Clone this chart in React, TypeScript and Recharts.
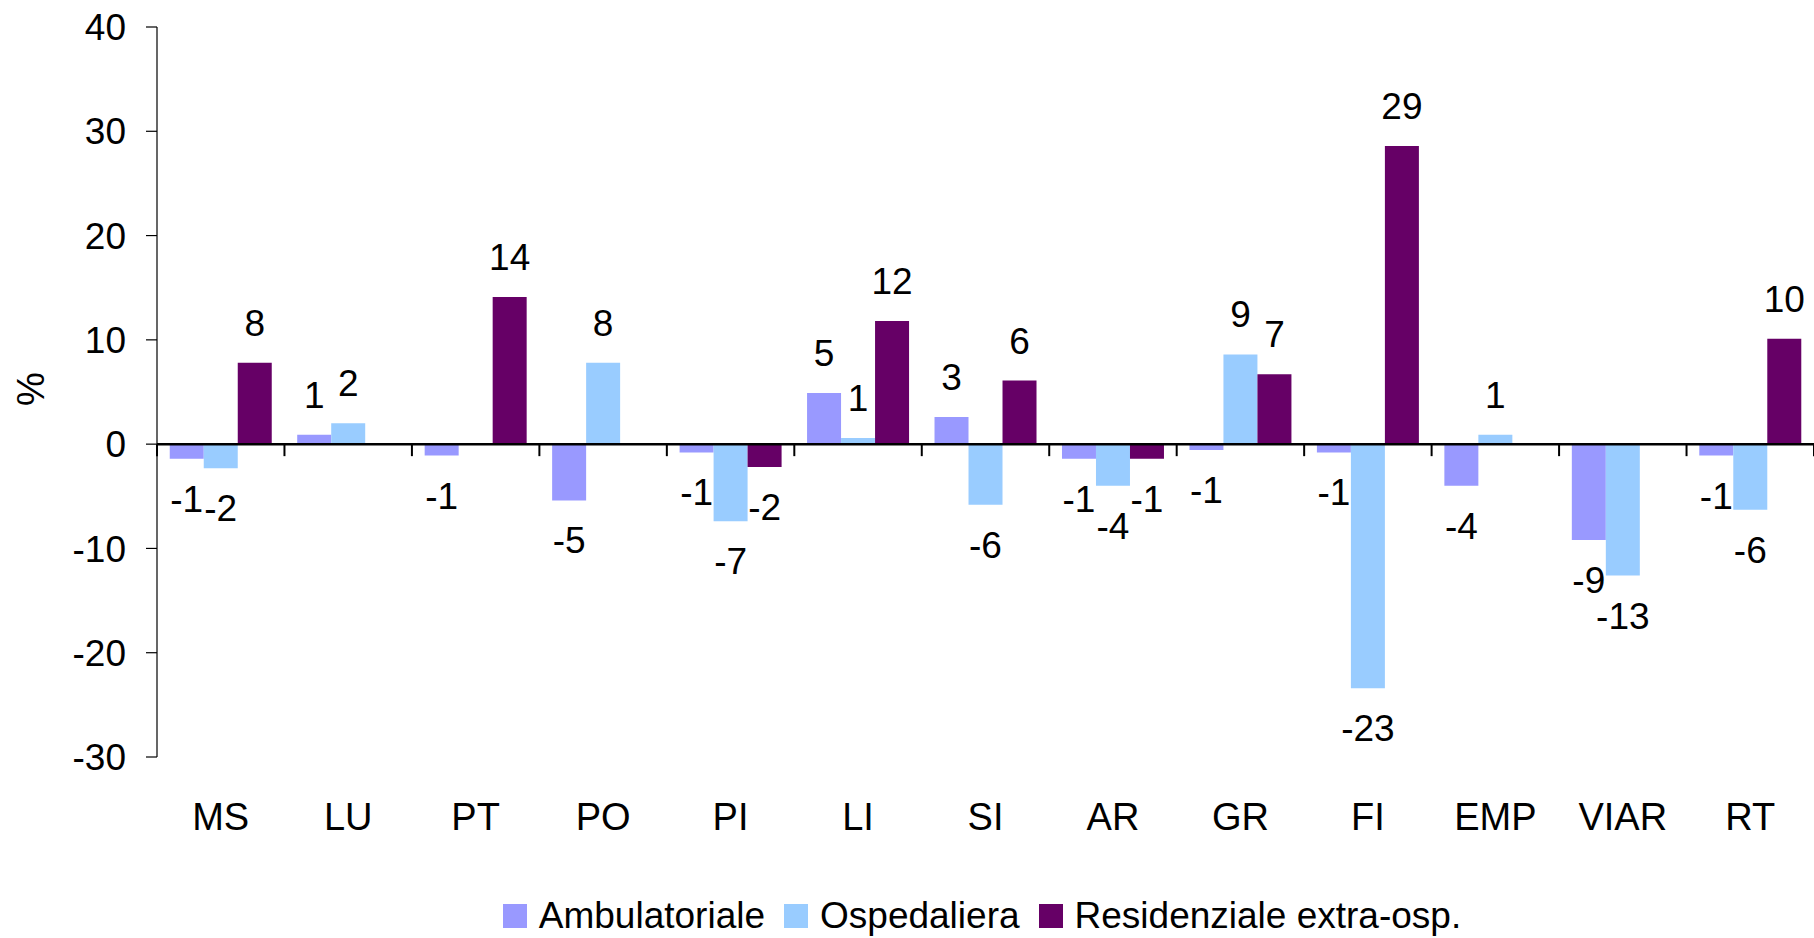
import React from 'react';
import { BarChart, Bar, XAxis, YAxis, ReferenceLine, LabelList, Legend } from 'recharts';

const categories = ['MS', 'LU', 'PT', 'PO', 'PI', 'LI', 'SI', 'AR', 'GR', 'FI', 'EMP', 'VIAR', 'RT'];
const ambulatoriale = [-1.4, 0.9, -1.1, -5.4, -0.8, 4.9, 2.6, -1.4, -0.55, -0.8, -4.0, -9.2, -1.1];
const ospedaliera = [-2.3, 2.0, null, 7.8, -7.4, 0.6, -5.8, -4.0, 8.6, -23.4, 0.9, -12.6, -6.3];
const residenziale = [7.8, null, 14.1, null, -2.2, 11.8, 6.1, -1.4, 6.7, 28.6, null, null, 10.1];
const seriesNames = ['Ambulatoriale', 'Ospedaliera', 'Residenziale extra-osp.'];
const seriesColors = ['#9999FF', '#99CCFF', '#660066'];
const yTicks = [-30, -20, -10, 0, 10, 20, 30, 40];
const yLabel = '%';

const data = categories.map((c, i) => ({
  cat: c,
  amb: ambulatoriale[i],
  osp: ospedaliera[i],
  res: residenziale[i],
}));

const FONT = "'Liberation Sans', Arial, sans-serif";

const renderLabel = (props: any) => {
  const { x, y, width, height, value } = props;
  if (value === null || value === undefined) return null;
  const top = Math.min(y, y + height);
  const bottom = Math.max(y, y + height);
  const cx = x + width / 2;
  const ty = value >= 0 ? top - 27 : bottom + 26 + 27;
  return (
    <text x={cx} y={ty} textAnchor="middle" fontSize={37} fontFamily={FONT} fill="#000">
      {Math.round(value)}
    </text>
  );
};

const zeroAxis = (props: any) => {
  const { x1, y1, x2, y2 } = props;
  const n = categories.length;
  const step = (x2 - x1) / n;
  return (
    <g>
      <line x1={x1} y1={y1} x2={x2} y2={y2} stroke="#000" strokeWidth={2.5} />
      {Array.from({ length: n + 1 }, (_, i) => (
        <line
          key={i}
          x1={x1 + i * step}
          x2={x1 + i * step}
          y1={y1}
          y2={y1 + 12}
          stroke="#000"
          strokeWidth={2}
        />
      ))}
    </g>
  );
};

const renderLegend = (props: any) => {
  const { payload } = props;
  return (
    <div
      style={{
        textAlign: 'center',
        whiteSpace: 'nowrap',
        fontFamily: FONT,
        fontSize: 37,
        lineHeight: '44px',
        color: '#000',
      }}
    >
      {(payload || []).map((e: any, i: number) => (
        <span key={i} style={{ marginLeft: i ? 19 : 0 }}>
          <span
            style={{
              display: 'inline-block',
              width: 24,
              height: 24,
              background: e.color,
              marginRight: 12,
            }}
          />
          <span>{e.value}</span>
        </span>
      ))}
    </div>
  );
};

const renderYLabel = (props: any) => {
  const vb = props.viewBox || { x: 0, y: 27, width: 157, height: 730 };
  const cx = vb.x + 44;
  const cy = vb.y + vb.height / 2 - 3;
  return (
    <text
      x={cx}
      y={cy}
      textAnchor="middle"
      fontSize={38}
      fontFamily={FONT}
      fill="#000"
      transform={`rotate(-90, ${cx}, ${cy})`}
    >
      {yLabel}
    </text>
  );
};

export default function App() {
  return (
    <div
      style={{
        position: 'absolute',
        left: 0,
        top: 0,
        width: 1814,
        height: 938,
        overflow: 'hidden',
        background: '#fff',
      }}
    >
      <BarChart
        width={1814}
        height={938}
        data={data}
        margin={{ top: 27, right: 0, left: 0, bottom: 0 }}
        barCategoryGap="10%"
        barGap={0}
      >
        <XAxis
          dataKey="cat"
          axisLine={false}
          tickLine={false}
          tickSize={0}
          tickMargin={46}
          height={137}
          interval={0}
          tick={{ fontSize: 38, fontFamily: FONT, fill: '#000' }}
        />
        <YAxis
          width={157}
          domain={[-30, 40]}
          ticks={yTicks}
          interval={0}
          axisLine={{ stroke: '#000', strokeWidth: 1.2 }}
          tickLine={{ stroke: '#000', strokeWidth: 1.2 }}
          tickSize={11}
          tickMargin={20}
          tick={{ fontSize: 37, fontFamily: FONT, fill: '#000' }}
          label={{ content: renderYLabel }}
        />
        <Bar dataKey="amb" name={seriesNames[0]} fill={seriesColors[0]} isAnimationActive={false}>
          <LabelList dataKey="amb" content={renderLabel} />
        </Bar>
        <Bar dataKey="osp" name={seriesNames[1]} fill={seriesColors[1]} isAnimationActive={false}>
          <LabelList dataKey="osp" content={renderLabel} />
        </Bar>
        <Bar dataKey="res" name={seriesNames[2]} fill={seriesColors[2]} isAnimationActive={false}>
          <LabelList dataKey="res" content={renderLabel} />
        </Bar>
        <ReferenceLine y={0} shape={zeroAxis} />
        <Legend
          verticalAlign="bottom"
          content={renderLegend}
          wrapperStyle={{ top: 894, left: 166, width: 1632, height: 44 }}
        />
      </BarChart>
    </div>
  );
}
